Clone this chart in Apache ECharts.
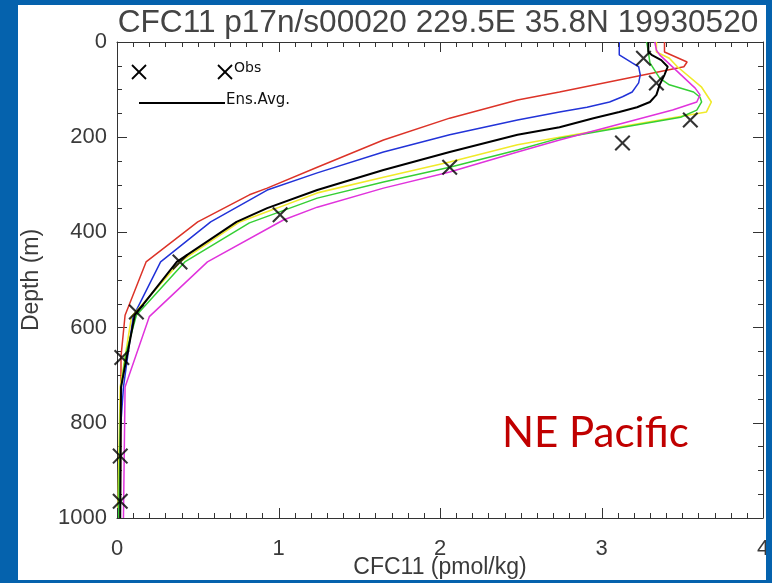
<!DOCTYPE html>
<html>
<head>
<meta charset="utf-8">
<script src="https://cdn.jsdelivr.net/npm/echarts@6/dist/echarts.min.js"></script>
<style>
  html, body { margin: 0; padding: 0; background: #0562ad; }
  #panel { position: absolute; left: 18px; top: 5px; width: 748px; height: 575px; background: #ffffff; }
  #chart { position: absolute; left: 0; top: 0; width: 772px; height: 583px; }
  #edge { position: absolute; left: 766px; top: 0; width: 6px; height: 583px; background: #0562ad; }
</style>
</head>
<body>
<div id="panel"></div>
<div id="chart"></div>
<div id="edge"></div>
<script>
// CFC-11 profiles (pmol/kg) against depth (m), one pair of arrays per ensemble member
const redDepth = [0, 21, 42, 52, 105, 122, 160, 206, 263, 307, 321, 378, 462, 574, 660, 1000];
const redCfc   = [3.39, 3.39, 3.53, 3.51, 2.74, 2.48, 2.06, 1.65, 1.24, 0.93, 0.82, 0.50, 0.18, 0.05, 0.025, 0.02];

const blueDepth = [0, 27, 44, 52, 69, 86, 105, 115, 126, 137, 147, 164, 195, 231, 275, 311, 332, 378, 462, 577, 725, 820, 1000];
const blueCfc   = [3.11, 3.11, 3.19, 3.23, 3.24, 3.23, 3.19, 3.13, 3.05, 2.91, 2.74, 2.48, 2.06, 1.65, 1.24, 0.93, 0.82, 0.58, 0.27, 0.10, 0.04, 0.02, 0.006];

const yellowDepth = [0, 21, 34, 52, 95, 126, 147, 200, 216, 252, 284, 317, 349, 378, 462, 577, 725, 1000];
const yellowCfc   = [3.34, 3.34, 3.42, 3.47, 3.62, 3.68, 3.65, 2.74, 2.48, 2.06, 1.65, 1.24, 0.99, 0.76, 0.39, 0.09, 0.02, 0.005];

const greenDepth = [0, 21, 44, 76, 90, 105, 116, 126, 143, 158, 202, 227, 263, 294, 328, 359, 380, 462, 574, 653, 725, 1000];
const greenCfc   = [3.28, 3.29, 3.30, 3.36, 3.42, 3.57, 3.61, 3.62, 3.59, 3.49, 2.74, 2.48, 2.06, 1.65, 1.24, 0.99, 0.82, 0.42, 0.12, 0.056, 0.025, 0.01];

const magentaDepth = [0, 17, 27, 97, 111, 126, 143, 206, 231, 273, 307, 347, 374, 462, 577, 725, 1000];
const magentaCfc   = [3.33, 3.34, 3.36, 3.58, 3.61, 3.59, 3.44, 2.74, 2.48, 2.06, 1.65, 1.24, 1.03, 0.56, 0.20, 0.05, 0.04];

// Ensemble average
const avgDepth = [0, 21, 27, 38, 52, 69, 90, 111, 126, 137, 147, 160, 179, 195, 231, 269, 311, 349, 378, 462, 574, 725, 1000];
const avgCfc   = [3.29, 3.29, 3.31, 3.37, 3.41, 3.39, 3.36, 3.34, 3.30, 3.22, 3.11, 2.95, 2.74, 2.48, 2.06, 1.65, 1.24, 0.93, 0.74, 0.37, 0.11, 0.025, 0.02];

// Bottle observations
const obsDepth = [34, 86, 164, 212, 263, 363, 462, 567, 663, 870, 965];
const obsCfc   = [3.26, 3.34, 3.55, 3.13, 2.06, 1.01, 0.39, 0.12, 0.03, 0.02, 0.02];

const titleText = 'CFC11 p17n/s00020 229.5E 35.8N 19930520';
const xName = 'CFC11 (pmol/kg)';
const yName = 'Depth (m)';
const regionLabel = 'NE Pacific';

const pairs = (vals, depths) => vals.map((v, i) => [v, depths[i]]);

// Tick marks on the CFC axis: major every 1, minor every 0.1
const xTickMarks = [];
for (let k = 0; k <= 40; k++) xTickMarks.push([k / 10, k % 10 === 0 ? 1 : 0]);

const tickFont = { fontFamily: 'Liberation Sans', fontSize: 22, color: '#3a3a3a' };
const axisColor = '#333';

function profile(name, vals, depths, color, width) {
  return {
    name: name,
    type: 'line',
    data: pairs(vals, depths),
    symbol: 'none',
    xAxisIndex: 0,
    yAxisIndex: 0,
    lineStyle: { color: color, width: width },
    z: 3
  };
}

// One side of the box frame
function frameAxis(extra, minorSplit, ticks) {
  return Object.assign({
    type: 'value',
    axisLine: { show: true, onZero: false, lineStyle: { color: axisColor, width: 1 } },
    axisTick: { show: ticks, inside: true, length: 10, lineStyle: { color: axisColor, width: 1 } },
    minorTick: { show: ticks, splitNumber: minorSplit, length: 5, lineStyle: { color: axisColor, width: 1 } },
    splitLine: { show: false },
    splitArea: { show: false }
  }, extra);
}

// Filled "X" outline used for observations
const crossPath = 'path://M0,1.3L1.3,0L7,5.7L12.7,0L14,1.3L8.3,7L14,12.7L12.7,14L7,8.3L1.3,14L0,12.7L5.7,7Z';

const chart = echarts.init(document.getElementById('chart'), null, { renderer: 'canvas' });

const X0 = 117, Y0 = 42, X1 = 763, Y1 = 518;

const option = {
  animation: false,
  backgroundColor: 'transparent',
  title: {
    text: titleText,
    left: 433,
    top: 2,
    textAlign: 'center',
    textStyle: { fontFamily: 'Liberation Sans', fontSize: 31.6, fontWeight: 'normal', color: '#444' }
  },
  grid: { left: X0, top: Y0, right: 772 - X1, bottom: 583 - Y1, containLabel: false, outerBoundsMode: 'none' },
  xAxis: [
    frameAxis({
      min: 0, max: 4, interval: 1, position: 'bottom',
      name: xName, nameLocation: 'middle', nameGap: 38, nameMoveOverlap: false,
      nameTextStyle: { fontFamily: 'Liberation Sans', fontSize: 23, color: '#3a3a3a' },
      axisLabel: Object.assign({ margin: 20, formatter: v => String(v) }, tickFont)
    }, 10, false),
    frameAxis({
      min: 0, max: 4, interval: 1, position: 'top',
      axisLabel: { show: false }
    }, 10, false)
  ],
  yAxis: [
    frameAxis({
      min: 0, max: 1000, interval: 200, inverse: true, position: 'left',
      name: yName, nameLocation: 'middle', nameGap: 74, nameMoveOverlap: false,
      nameTextStyle: { fontFamily: 'Liberation Sans', fontSize: 23, color: '#3a3a3a' },
      axisLabel: Object.assign({ margin: 10, formatter: v => String(v) }, tickFont)
    }, 4, true),
    frameAxis({
      min: 0, max: 1000, interval: 200, inverse: true, position: 'right',
      axisLabel: { show: false }
    }, 4, true)
  ],
  series: [
    {
      // inward ticks on the top and bottom frame, placed through the x scale
      name: 'xticks',
      type: 'custom',
      xAxisIndex: 0,
      yAxisIndex: 0,
      silent: true,
      clip: false,
      z: 20,
      data: xTickMarks,
      renderItem: function (params, api) {
        const x = Math.round(api.coord([api.value(0), 0])[0]) + 0.5;
        const cs = params.coordSys;
        const len = api.value(1) ? 10 : 5;
        const st = { stroke: axisColor, lineWidth: 1, fill: null };
        return {
          type: 'group',
          children: [
            { type: 'line', shape: { x1: x, y1: cs.y + cs.height, x2: x, y2: cs.y + cs.height - len }, style: st },
            { type: 'line', shape: { x1: x, y1: cs.y, x2: x, y2: cs.y + len }, style: st }
          ]
        };
      }
    },
    profile('red', redCfc, redDepth, '#dc3328', 1.5),
    profile('blue', blueCfc, blueDepth, '#2233d8', 1.5),
    profile('yellow', yellowCfc, yellowDepth, '#f0ea2a', 1.6),
    profile('green', greenCfc, greenDepth, '#35cf35', 1.5),
    profile('magenta', magentaCfc, magentaDepth, '#e033dc', 1.5),
    profile('Ens.Avg.', avgCfc, avgDepth, '#000000', 2),
    {
      name: 'Obs',
      type: 'scatter',
      data: pairs(obsCfc, obsDepth),
      symbol: crossPath,
      symbolSize: 16,
      itemStyle: { color: '#000' },
      z: 5
    }
  ],
  graphic: [
    // in-plot key
    { type: 'line', z: 10, shape: { x1: 132, y1: 65, x2: 146, y2: 79 }, style: { stroke: '#000', lineWidth: 1.8 } },
    { type: 'line', z: 10, shape: { x1: 132, y1: 79, x2: 146, y2: 65 }, style: { stroke: '#000', lineWidth: 1.8 } },
    { type: 'line', z: 10, shape: { x1: 218, y1: 65, x2: 232, y2: 79 }, style: { stroke: '#000', lineWidth: 1.8 } },
    { type: 'line', z: 10, shape: { x1: 218, y1: 79, x2: 232, y2: 65 }, style: { stroke: '#000', lineWidth: 1.8 } },
    { type: 'text', z: 10, x: 234, y: 68,
      style: { text: 'Obs', font: '14px "DejaVu Sans"', fill: '#111', verticalAlign: 'middle' } },
    { type: 'line', z: 10, shape: { x1: 139, y1: 103, x2: 225, y2: 103 }, style: { stroke: '#000', lineWidth: 1.8 } },
    { type: 'text', z: 10, x: 226, y: 100,
      style: { text: 'Ens.Avg.', font: '15px "DejaVu Sans"', fill: '#111', verticalAlign: 'middle' } },
    { type: 'text', z: 10, x: 502, y: 433,
      style: { text: regionLabel, font: '42px Lato', fill: '#c00000', verticalAlign: 'middle' } }
  ]
};

chart.setOption(option);
</script>
</body>
</html>
